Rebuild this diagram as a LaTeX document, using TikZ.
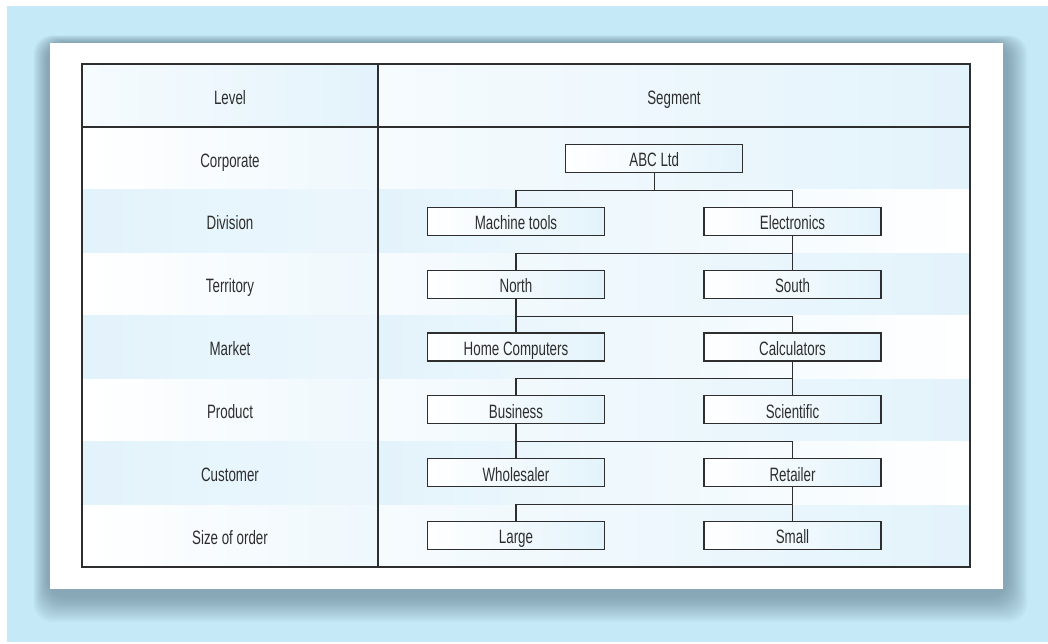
\documentclass[tikz,border=0pt]{standalone}
\usepackage{fontspec}
\setmainfont{Liberation Sans}[FakeStretch=0.69]
\usepackage{tikz}
\definecolor{backblue}{HTML}{C6E9F8}
\definecolor{shadowgrey}{HTML}{4E6B7A}
\definecolor{rowblue}{HTML}{E3F3FB}
\definecolor{rowpale}{HTML}{F6FBFE}
\definecolor{inkgrey}{HTML}{2E2E2E}

\begin{document}
\begin{tikzpicture}[x=0.75pt, y=-0.75pt, node distance=47.14pt]
  \tikzstyle{level} = [text=inkgrey, font=\fontsize{14.5}{17}\selectfont, text height=14.5pt, text depth=1.5pt]
  \tikzstyle{unit} = [rectangle, draw=inkgrey, line width=0.8pt, minimum width=132.75pt, minimum height=21pt, inner sep=0pt, left color=white, right color=rowblue, text=inkgrey, font=\fontsize{14.5}{17}\selectfont, text height=14pt, text depth=1.4pt]
  \tikzstyle{link} = [draw=inkgrey, line width=0.8pt]
  \tikzstyle{frame} = [draw=inkgrey, line width=1.1pt]

  \useasboundingbox (0,0) rectangle (1048,643);
  \fill[backblue] (7,6) rectangle (1048,642);
  \foreach \i in {0,...,15}
    \fill[shadowgrey, opacity=0.04, rounded corners=14pt] (47-\i*0.9,42-\i*0.45) rectangle (1008+\i*1.3,598+\i*1.6);
  \fill[white] (50,43) rectangle (1003,589);

  % row bands
  \shade[left color=rowpale, right color=rowblue] (82,64) rectangle (378,127);
  \shade[left color=rowpale, right color=rowblue] (378,64) rectangle (970,127);
  \foreach \r in {0,2,4,6} {
    \shade[left color=white, right color=rowpale!60!rowblue] (82,127+\r*62.857) rectangle (378,189.857+\r*62.857);
    \shade[left color=rowpale, right color=rowblue] (378,127+\r*62.857) rectangle (970,189.857+\r*62.857);
  }
  \foreach \r in {1,3,5} {
    \shade[left color=rowblue, right color=rowblue!70!white] (82,127+\r*62.857) rectangle (378,189.857+\r*62.857);
    \shade[left color=rowblue, right color=white] (378,127+\r*62.857) rectangle (970,189.857+\r*62.857);
  }
  \draw[frame] (82,64) rectangle (970,567);
  \draw[frame] (82,127) -- (970,127);
  \draw[frame] (378,64) -- (378,567);

  \node (lvl) [level] at (230,96) {Level};
  \node (seg) [level] at (674,96) {Segment};

  \node (corp) [level] at (230,158.43) {Corporate};
  \node (divi) [level, below of=corp] {Division};
  \node (terr) [level, below of=divi] {Territory};
  \node (mark) [level, below of=terr] {Market};
  \node (prod) [level, below of=mark] {Product};
  \node (cust) [level, below of=prod] {Customer};
  \node (size) [level, below of=cust] {Size of order};

  \node (abc) [unit] at (654.25,158.43) {ABC Ltd};
  \node (mtools) [unit, below of=abc, xshift=-103.69pt] {Machine tools};
  \node (elec) [unit, below of=abc, xshift=103.69pt] {Electronics};
  \node (north) [unit, below of=mtools] {North};
  \node (south) [unit, below of=elec] {South};
  \node (home) [unit, below of=north] {Home Computers};
  \node (calc) [unit, below of=south] {Calculators};
  \node (busi) [unit, below of=home] {Business};
  \node (scien) [unit, below of=calc] {Scientific};
  \node (whole) [unit, below of=busi] {Wholesaler};
  \node (retail) [unit, below of=scien] {Retailer};
  \node (large) [unit, below of=whole] {Large};
  \node (small) [unit, below of=retail] {Small};

  \draw [link] (abc.south) -- ++(0,17.43) -| (mtools.north);
  \draw [link] (abc.south) -- ++(0,17.43) -| (elec.north);
  \draw [link] (elec.south) -- ++(0,17.43) -| (north.north);
  \draw [link] (elec.south) -- (south.north);
  \draw [link] (north.south) -- (home.north);
  \draw [link] (north.south) -- ++(0,17.43) -| (calc.north);
  \draw [link] (calc.south) -- ++(0,17.43) -| (busi.north);
  \draw [link] (calc.south) -- (scien.north);
  \draw [link] (busi.south) -- (whole.north);
  \draw [link] (busi.south) -- ++(0,17.43) -| (retail.north);
  \draw [link] (retail.south) -- ++(0,17.43) -| (large.north);
  \draw [link] (retail.south) -- (small.north);
\end{tikzpicture}
\end{document}
